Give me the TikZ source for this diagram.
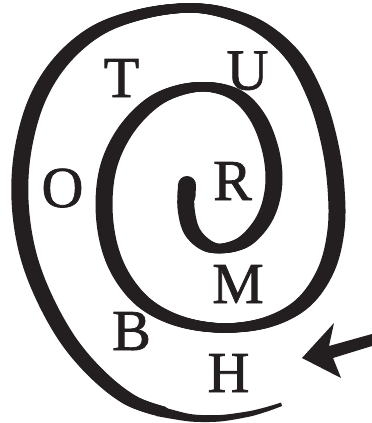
\documentclass[tikz,border=0pt]{standalone}
\usepackage{fontspec}
\setmainfont{Liberation Serif}
\newfontfamily\lettfont{Liberation Serif}[FakeBold=1.2]
\definecolor{ink}{RGB}{35,31,32}
\begin{document}
\begin{tikzpicture}[x=1pt,y=-1pt,
  letter/.style={anchor=base, inner sep=0pt, text=ink, font=\lettfont\fontsize{58}{58}\selectfont},
  penstroke/.style={draw=ink, line width=9pt, line cap=round, line join=round}]
\useasboundingbox (0,0) rectangle (372,423);
% spiral drawn with a broad horizontal nib
\foreach \dx in {-4,-3.2,-2.4,-1.6,-0.8,0,0.8,1.6,2.4,3.2,4}{
  \draw[penstroke, xshift=\dx pt] plot[smooth, tension=0.6] coordinates {
    (187,185) (186,208) (193,233) (213,248) (240,244) (259,227) (270,205)
    (274,178) (270,148) (258,118) (238,96) (210,87) (180,90) (152,103)
    (126,130) (109,165) (104,205) (109,245) (123,278) (147,305) (182,322)
    (225,328) (268,322) (303,303) (326,270) (336,230) (336,188) (330,145)
    (317,100) (294,57) (260,27) (222,12) (186,8) (142,14) (98,30) (62,60)
    (37,100) (23,150) (20,200) (27,250) (43,295) (68,340) (98,375)
    (130,400) (160,411)};
}
% thick inner end
\draw[draw=ink, line width=18pt, line cap=round] (187,185) -- (186.5,196);
% tapering tail
\fill[ink] plot[smooth] coordinates {(156,405) (190,414) (220,415) (250,411) (270,406) (281,402.5)}
  -- plot[smooth] coordinates {(282,406) (270,410.5) (250,416.5) (220,421.5) (190,421.5) (156,416)} -- cycle;
% arrow
\fill[ink] (302,358) -- (334,323) -- (329,346) -- (372,334) -- (372,346)
  -- (333,358) -- (341,378) -- cycle;
% letters
\node[letter] (T) at (121.5,97) {T};
\node[letter] (U) at (247.5,89.5) {U};
\node[letter] (O) at (62.5,207) {O};
\node[letter] (R) at (232.5,200) {R};
\node[letter] (M) at (238,303) {M};
\node[letter] (B) at (131.5,350) {B};
\node[letter] (H) at (228.5,392) {H};
\end{tikzpicture}
\end{document}
